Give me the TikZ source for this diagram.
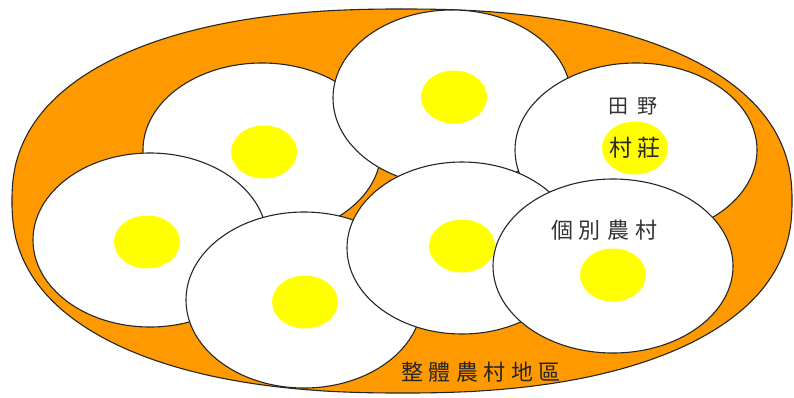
\documentclass[tikz,border=0pt]{standalone}
\usepackage{fontspec}
\newfontfamily\cjk{Noto Sans CJK TC}
\usetikzlibrary{shapes.geometric}
\definecolor{plate}{HTML}{FF9900}
\definecolor{yolk}{HTML}{FFFF00}
\begin{document}
\begin{tikzpicture}[x=1pt,y=-1pt,
  egg/.style={ellipse, draw=black!85, fill=white, line width=1.1pt, inner sep=0pt},
  yolkdot/.style={ellipse, fill=yolk, inner sep=0pt, minimum width=66pt, minimum height=53pt},
  lbl/.style={font=\cjk\fontsize{20}{20}\selectfont, text=black!80, inner sep=0pt}]
\useasboundingbox (0,0) rectangle (794,397);
% outer plate
\draw[fill=plate, draw=black!85, line width=1.1pt]
  plot[smooth cycle, domain=0.9:359.1, samples=200]
  ({402 + 390*cos(\x)/abs(cos(\x))*abs(cos(\x))^0.8696},
   {201 + 192*sin(\x)/abs(sin(\x))*abs(sin(\x))^0.8696});
% eggs
\node[egg, minimum width=238pt, minimum height=174pt] (A) at (262,150) {};
\node[yolkdot] (yA) at (264,152) {};
\node[egg, minimum width=238pt, minimum height=176pt] (B) at (452,98) {};
\node[yolkdot] (yB) at (454,97) {};
\node[egg, minimum width=242pt, minimum height=174pt] (C) at (636,150) {};
\node[yolkdot] (yC) at (635,148) {};
\node[egg, minimum width=234pt, minimum height=174pt] (D) at (150,240) {};
\node[yolkdot] (yD) at (147,242) {};
\node[egg, minimum width=236pt, minimum height=176pt] (E) at (304,300) {};
\node[yolkdot] (yE) at (305,302) {};
\node[egg, minimum width=230pt, minimum height=172pt] (F) at (462,248) {};
\node[yolkdot] (yF) at (462,246) {};
\node[egg, minimum width=240pt, minimum height=174pt] (G) at (613,266) {};
\node[yolkdot] (yG) at (613,275) {};
% labels
\node[lbl] (tianye) at (633,106) {田\hspace{9pt}野};
\node[lbl, font=\cjk\fontsize{23}{23}\selectfont, text=black!85] (cunzhuang) at (yC) {村\hspace{6pt}莊};
\node[lbl, font=\cjk\fontsize{22}{22}\selectfont] (gebie) at (604,230) {個\hspace{6pt}別\hspace{6pt}農\hspace{6pt}村};
\node[lbl, font=\cjk\fontsize{22}{22}\selectfont, text=black!85] (zhengti) at (481,372) {整\hspace{5.5pt}體\hspace{5.5pt}農\hspace{5.5pt}村\hspace{5.5pt}地\hspace{5.5pt}區};
\end{tikzpicture}
\end{document}
